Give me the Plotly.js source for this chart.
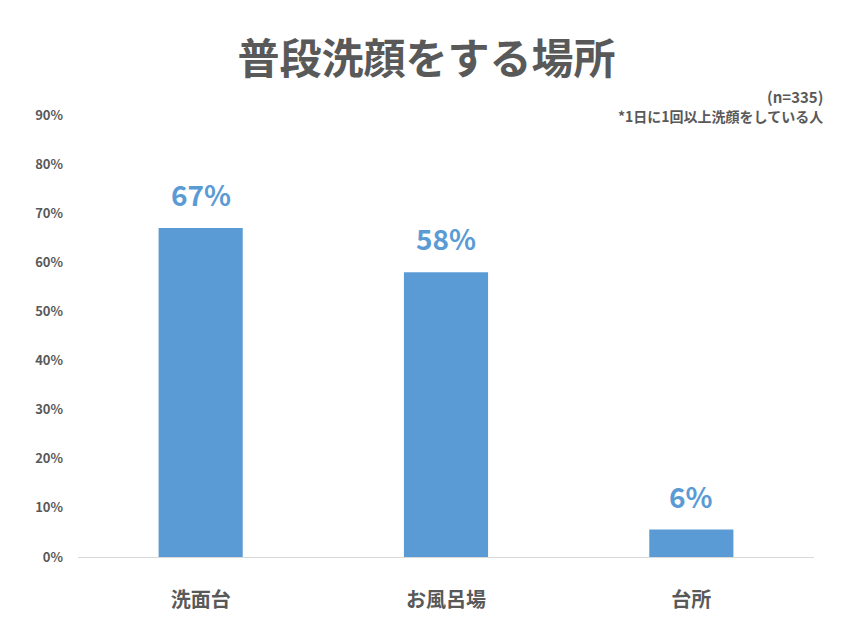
<!DOCTYPE html>
<html>
<head>
<meta charset="utf-8">
<script src="https://cdn.plot.ly/plotly-3.0.1.min.js"></script>
<style>
  body { margin: 0; background: #fff; }
  #chart { width: 853px; height: 640px; }
</style>
</head>
<body>
<div id="chart"></div>
<script>
var places = ["洗面台", "お風呂場", "台所"];
var shares = [67, 58, 5.6];
var yTicks = [0, 10, 20, 30, 40, 50, 60, 70, 80, 90];

var font = "'Noto Sans CJK JP', 'Noto Sans', sans-serif";
var gray = "#595959";
var blue = "#5B9BD5";

var bars = {
    x: places,
    y: shares,
    type: "bar",
    width: 0.343,
    marker: { color: blue },
    hoverinfo: "none"
};

// value labels above each bar
var labels = places.map(function (p, i) {
    return {
        x: p, y: shares[i],
        xref: "x", yref: "y",
        text: "<b>" + Math.round(shares[i]) + "%</b>",
        showarrow: false,
        yanchor: "bottom",
        yshift: 12,
        font: { family: font, size: 28, color: blue }
    };
});

var layout = {
    width: 853,
    height: 640,
    margin: { l: 78, r: 39, t: 115, b: 83 },
    paper_bgcolor: "#fff",
    plot_bgcolor: "#fff",
    showlegend: false,
    title: {
        text: "<b>普段洗顔をする場所</b>",
        font: { family: font, size: 42, color: gray },
        x: 0.5, xanchor: "center",
        y: 0.908, yanchor: "middle"
    },
    xaxis: {
        type: "category",
        showgrid: false,
        showline: false,
        ticks: "",
        tickfont: { family: font, size: 20, color: gray, weight: "bold" },
        ticklabelstandoff: 29
    },
    yaxis: {
        range: [0, 90],
        tickvals: yTicks,
        ticktext: yTicks.map(function (v) { return v + "%"; }),
        showgrid: false,
        zeroline: true,
        zerolinecolor: "#d9d9d9",
        zerolinewidth: 1,
        ticks: "",
        ticklabelstandoff: 14,
        tickfont: { family: font, size: 13, color: gray, weight: "bold" }
    },
    annotations: labels.concat([
        {
            text: "<b>(n=335)</b>",
            xref: "paper", yref: "paper",
            x: 1.015, y: 1.041, xanchor: "right", yanchor: "middle",
            showarrow: false,
            font: { family: font, size: 15, color: gray }
        },
        {
            text: "<b>*1日に1回以上洗顔をしている人</b>",
            xref: "paper", yref: "paper",
            x: 1.015, y: 0.998, xanchor: "right", yanchor: "middle",
            showarrow: false,
            font: { family: font, size: 14, color: gray }
        }
    ])
};

Plotly.newPlot("chart", [bars], layout, { displayModeBar: false, staticPlot: true });
</script>
</body>
</html>
